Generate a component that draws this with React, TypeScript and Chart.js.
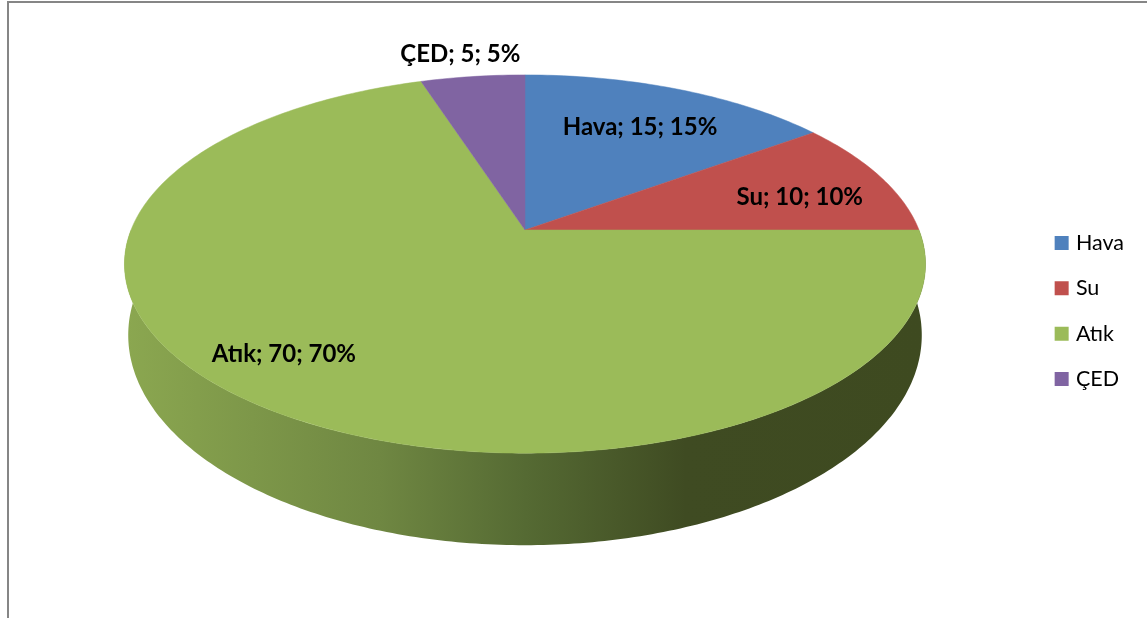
import React, { useEffect, useRef } from "react";
import { Chart, registerables } from "chart.js";

Chart.register(...registerables);

const categories = ["Hava", "Su", "Atık", "ÇED"];
const values = [15, 10, 70, 5];
const colors = ["#4F81BD", "#C0504D", "#9BBB59", "#8064A2"];

// perspective disc projection: top face and bottom rim
const CX = 525;
const TOP = { a: 394, b: 183, k: 0.18, y0: 230 };
const RIM = { a: 391, b: 204, k: 0.17, y0: 299.4 };
// label placement: radial factor and pixel nudge, one per slice
const labelRadius = [0.71, 0.75, 0.74, 1.1];
const labelNudgeX = [1, 5, -49, -8];
const labelNudgeY = [1, 8, 1, -9];

type P = { a: number; b: number; k: number; y0: number };
const project = (p: P, ang: number, r = 1) => {
  const u = Math.cos(ang) * r;
  const v = Math.sin(ang) * r;
  const d = 1 - p.k * v;
  return { x: CX + (p.a * u) / d, y: p.y0 + (p.b * v) / d };
};

const piePlugin = {
  id: "perspectivePie",
  beforeDraw(chart: any) {
    const { ctx } = chart;
    ctx.save();
    ctx.fillStyle = "#fff";
    ctx.fillRect(0, 0, chart.width, chart.height);
    ctx.fillStyle = "#868686";
    ctx.fillRect(7, 1, chart.width - 7, 2);
    ctx.fillRect(7, 1, 2, chart.height);
    ctx.restore();
  },
  beforeDatasetsDraw(chart: any) {
    const { ctx } = chart;
    const arcs = chart.getDatasetMeta(0).data;
    const total = values.reduce((s, v) => s + v, 0);
    ctx.save();

    // side wall: front half of the disc
    const grad = ctx.createLinearGradient(125, 0, 926, 0);
    grad.addColorStop(0, "#8BA750");
    grad.addColorStop(0.318, "#6F8742");
    grad.addColorStop(0.5, "#556A33");
    grad.addColorStop(0.7, "#3F4B22");
    grad.addColorStop(1, "#3E4A20");
    ctx.fillStyle = grad;
    ctx.beginPath();
    const N = 240;
    for (let i = 0; i <= N; i++) {
      const p = project(TOP, (Math.PI * i) / N);
      i ? ctx.lineTo(p.x, p.y) : ctx.moveTo(p.x, p.y);
    }
    for (let i = N; i >= 0; i--) {
      const p = project(RIM, (Math.PI * i) / N);
      ctx.lineTo(p.x, p.y);
    }
    ctx.closePath();
    ctx.fill();

    // top face
    arcs.forEach((arc: any, i: number) => {
      const { startAngle, endAngle } = arc.getProps(["startAngle", "endAngle"], true);
      ctx.beginPath();
      ctx.moveTo(CX, TOP.y0);
      const steps = Math.max(8, Math.ceil((endAngle - startAngle) * 60));
      for (let s = 0; s <= steps; s++) {
        const p = project(TOP, startAngle + ((endAngle - startAngle) * s) / steps);
        ctx.lineTo(p.x, p.y);
      }
      ctx.closePath();
      ctx.fillStyle = colors[i];
      ctx.strokeStyle = colors[i];
      ctx.lineWidth = 0.5;
      ctx.fill();
      ctx.stroke();
    });

    // data labels
    ctx.fillStyle = "#000";
    ctx.font = "bold 24px Lato";
    ctx.textAlign = "center";
    ctx.textBaseline = "middle";
    arcs.forEach((arc: any, i: number) => {
      const { startAngle, endAngle } = arc.getProps(["startAngle", "endAngle"], true);
      const p = project(TOP, (startAngle + endAngle) / 2, labelRadius[i]);
      const pct = Math.round((values[i] / total) * 100);
      ctx.fillText(`${categories[i]}; ${values[i]}; ${pct}%`, p.x + labelNudgeX[i], p.y + labelNudgeY[i]);
    });
    ctx.restore();
    return false;
  },
};

export default function App() {
  const ref = useRef<HTMLCanvasElement>(null);
  useEffect(() => {
    document.body.style.margin = "0";
    document.body.style.overflow = "hidden";
    const pieLabels = (Chart as any).overrides.pie.plugins.legend.labels.generateLabels;
    const chart = new Chart(ref.current!, {
      type: "pie",
      data: {
        labels: categories,
        datasets: [{ data: values, backgroundColor: colors, borderWidth: 0 }],
      },
      options: {
        responsive: false,
        animation: false,
        layout: { padding: { top: 4, right: 13 } },
        plugins: {
          tooltip: { enabled: false },
          legend: {
            position: "right",
            labels: {
              boxWidth: 7,
              boxHeight: 7,
              padding: 23.8,
              color: "#000",
              font: { family: "Lato", size: 21.5 },
              generateLabels: (c: any) =>
                pieLabels(c).map((l: any, i: number) => ({ ...l, lineWidth: 7, strokeStyle: colors[i], fillStyle: colors[i] })),
            },
          },
        },
      },
      plugins: [piePlugin],
    } as any);
    return () => chart.destroy();
  }, []);
  return <canvas ref={ref} width={1147} height={618} style={{ display: "block" }} />;
}
